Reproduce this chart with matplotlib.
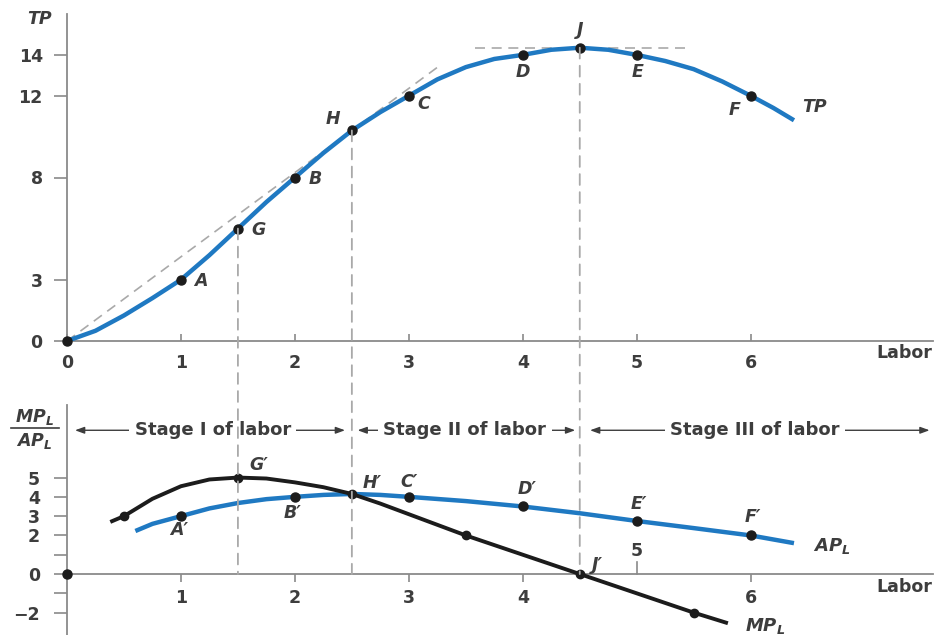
import matplotlib
matplotlib.use("Agg")
import matplotlib.pyplot as plt
from matplotlib.patches import ConnectionPatch

plt.rcParams["font.family"] = ["DejaVu Sans"]
plt.rcParams["mathtext.fontset"] = "custom"
plt.rcParams["mathtext.it"] = "DejaVu Sans:italic:bold"
plt.rcParams["mathtext.rm"] = "DejaVu Sans:bold"
plt.rcParams["mathtext.bf"] = "DejaVu Sans:bold"

# ---- total product curve ----
tp_x = [0, 0.25, 0.5, 0.75, 1, 1.25, 1.5, 1.75, 2, 2.25, 2.5, 2.75, 3, 3.25,
        3.5, 3.75, 4, 4.25, 4.5, 4.75, 5, 5.25, 5.5, 5.75, 6, 6.2, 6.38]
tp_y = [0, 0.5, 1.25, 2.1, 3, 4.2, 5.5, 6.8, 8, 9.2, 10.3, 11.2, 12, 12.8,
        13.4, 13.8, 14, 14.25, 14.35, 14.25, 14, 13.7, 13.3, 12.7, 12, 11.4, 10.8]

# labelled points on TP
tp_pts_names = ["A", "G", "B", "H", "C", "D", "J", "E", "F"]
tp_pts_x = [1, 1.5, 2, 2.5, 3, 4, 4.5, 5, 6]
tp_pts_y = [3, 5.5, 8, 10.3, 12, 14, 14.35, 14, 12]

# ---- average and marginal product curves ----
ap_x = [0.6, 0.75, 1, 1.25, 1.5, 1.75, 2, 2.25, 2.5, 2.75, 3, 3.5, 4, 4.5,
        5, 5.5, 6, 6.38]
ap_y = [2.23, 2.6, 3.0, 3.4, 3.68, 3.88, 4.0, 4.1, 4.15, 4.1, 4.0, 3.78, 3.5,
        3.15, 2.75, 2.38, 2.0, 1.6]

mp_x = [0.38, 0.5, 0.75, 1.0, 1.25, 1.5, 1.75, 2.0, 2.25, 2.5, 2.75, 3.0,
        3.25, 3.5, 4.0, 4.5, 5.0, 5.5, 5.8]
mp_y = [2.7, 3.0, 3.9, 4.55, 4.9, 5.0, 4.95, 4.75, 4.5, 4.15, 3.65, 3.1,
        2.55, 2.0, 1.0, 0.0, -1.0, -2.0, -2.55]

ap_pts_names = ["A′", "B′", "C′", "D′", "E′", "F′"]
ap_pts_x = [1, 2, 3, 4, 5, 6]
ap_pts_y = [3, 4, 4, 3.5, 2.75, 2]

mp_pts_names = ["", "G′", "H′", "", "J′", ""]
mp_pts_x = [0.5, 1.5, 2.5, 3.5, 4.5, 5.5]
mp_pts_y = [3, 5, 4.15, 2, 0, -2]

# axis ticks
top_yticks = [0, 3, 8, 12, 14]
top_xticks = [0, 1, 2, 3, 4, 5, 6]
bot_yticks = [-2, -1, 0, 1, 2, 3, 4, 5]
bot_ylabels = ["−2", "", "0", "", "2", "3", "4", "5"]
bot_xticks = [1, 2, 3, 4, 6]

stage_names = ["Stage I of labor", "Stage II of labor", "Stage III of labor"]
stage_bounds = [(0.07, 2.44), (2.55, 4.46), (4.59, 7.57)]
stage_text_x = [1.28, 3.49, 6.04]

BLUE = "#1f79c2"
DARK = "#1c1c1c"
TXT = "#3d3d3d"
AXC = "#8a8a8a"
DASH = "#a9a9a9"

W, H = 939, 635
fig = plt.figure(figsize=(W / 100, H / 100), dpi=100)
ax1 = fig.add_axes([67 / W, (H - 341) / H, 866 / W, 327 / H])
ax2 = fig.add_axes([67 / W, 0, 866 / W, 230 / H])

for ax in (ax1, ax2):
    ax.set_xlim(0, 7.6)
    for s in ("top", "right"):
        ax.spines[s].set_visible(False)
    for s in ("left", "bottom"):
        ax.spines[s].set_color(AXC)
        ax.spines[s].set_linewidth(1.3)
    ax.patch.set_alpha(0)

ax1.set_ylim(0, 16)
ax2.set_ylim(-3.16, 8.76)
ax2.spines["bottom"].set_position(("data", 0))

tick_font = dict(fontsize=12.5, fontweight="bold", color=TXT)

# top axis ticks
ax1.set_yticks(top_yticks)
ax1.set_yticklabels([str(v) for v in top_yticks], **tick_font)
ax1.tick_params(axis="y", direction="out", length=9.5, width=1.2, color=AXC, pad=8)
ax1.set_xticks(top_xticks)
ax1.set_xticklabels([str(v) for v in top_xticks], **tick_font)
ax1.tick_params(axis="x", direction="in", length=5, width=1.2, color=AXC, pad=9)

# bottom axis ticks
ax2.set_yticks(bot_yticks)
ax2.set_yticklabels(bot_ylabels, **tick_font)
ax2.tick_params(axis="y", direction="out", length=9.5, width=1.2, color=AXC, pad=10)
ax2.set_xticks(bot_xticks)
ax2.set_xticklabels([str(v) for v in bot_xticks], **tick_font)
ax2.tick_params(axis="x", direction="out", length=6, width=1.2, color=AXC, pad=5)
# tick at 5 drawn upward with its label above the axis
ax2.plot([5, 5], [0, 0.6], color=AXC, lw=1.2, clip_on=False)
ax2.text(5, 1.2, "5", ha="center", va="center", **tick_font)

# ---- top panel ----
ax1.plot(tp_x, tp_y, color=BLUE, lw=3.2, solid_capstyle="butt", zorder=3)
ax1.plot(tp_pts_x, tp_pts_y, "o", color=DARK, ms=6.5, zorder=4)
ax1.plot([0], [0], "o", color=DARK, ms=6.5, zorder=5, clip_on=False)

# ray from origin tangent at H, and horizontal tangent at J
h_slope = tp_pts_y[3] / tp_pts_x[3]
ax1.plot([0, 3.25], [0, 3.25 * h_slope], color=DASH, lw=1.2, dashes=(6, 4), zorder=2)
ax1.plot([3.58, 5.42], [tp_pts_y[6], tp_pts_y[6]], color=DASH, lw=1.2,
         dashes=(6, 4), zorder=2)

lab_font = dict(fontsize=12.5, fontweight="bold", fontstyle="italic", color=TXT,
                ha="center", va="center")
tp_offsets = [(20, -1), (21, -1), (20, -2), (-19, 11), (15, -8), (0, -17),
              (0, 18), (1, -17), (-16, -14)]
for name, x, y, off in zip(tp_pts_names, tp_pts_x, tp_pts_y, tp_offsets):
    ax1.annotate(name, (x, y), xytext=off, textcoords="offset pixels", **lab_font)
ax1.annotate("TP", (tp_x[-1], tp_y[-1]), xytext=(21, 13),
             textcoords="offset pixels", **lab_font)

ax1.text(-0.24, 15.75, "TP", **lab_font, clip_on=False)
ax1.text(7.35, -0.6, "Labor", fontsize=12.5, fontweight="bold", color=TXT,
         ha="center", va="center", clip_on=False)

# ---- bottom panel ----
ax2.plot(ap_x, ap_y, color=BLUE, lw=3.2, solid_capstyle="butt", zorder=3)
ax2.plot(mp_x, mp_y, color=DARK, lw=2.8, solid_capstyle="butt", zorder=3)
ax2.plot(ap_pts_x, ap_pts_y, "o", color=DARK, ms=6.5, zorder=4)
ax2.plot(mp_pts_x, mp_pts_y, "o", color=DARK, ms=6, zorder=4)
ax2.plot([0], [0], "o", color=DARK, ms=6.5, zorder=5, clip_on=False)

ap_offsets = [(-2, -14), (-2, -16), (0, 15), (4, 17), (2, 17), (2, 18)]
for name, x, y, off in zip(ap_pts_names, ap_pts_x, ap_pts_y, ap_offsets):
    ax2.annotate(name, (x, y), xytext=off, textcoords="offset pixels", **lab_font)
mp_offsets = [(0, 0), (21, 13), (20, 11), (0, 0), (18, 9), (0, 0)]
for name, x, y, off in zip(mp_pts_names, mp_pts_x, mp_pts_y, mp_offsets):
    if name:
        ax2.annotate(name, (x, y), xytext=off, textcoords="offset pixels", **lab_font)

ax2.annotate(r"$AP_L$", (ap_x[-1], ap_y[-1]), xytext=(38, -3),
             textcoords="offset pixels", fontsize=13, color=TXT,
             ha="center", va="center")
ax2.annotate(r"$MP_L$", (mp_x[-1], mp_y[-1]), xytext=(37, -3),
             textcoords="offset pixels", fontsize=13, color=TXT,
             ha="center", va="center", annotation_clip=False)

# stacked axis title MP_L / AP_L
ax2.text(-0.285, 8.15, r"$MP_L$", fontsize=12.5, color=TXT, ha="center",
         va="center", clip_on=False)
ax2.plot([-0.49, -0.07], [7.56, 7.56], color=TXT, lw=1.2, clip_on=False)
ax2.text(-0.285, 6.92, r"$AP_L$", fontsize=12.5, color=TXT, ha="center",
         va="center", clip_on=False)
ax2.text(7.35, -0.68, "Labor", fontsize=12.5, fontweight="bold", color=TXT,
         ha="center", va="center", clip_on=False)

# stage arrows
for name, (x0, x1), xc in zip(stage_names, stage_bounds, stage_text_x):
    ax2.annotate("", xy=(x0, 7.45), xytext=(x1, 7.45),
                 arrowprops=dict(arrowstyle="<|-|>,head_length=0.55,head_width=0.2",
                                 color=TXT, lw=1.0, shrinkA=0, shrinkB=0),
                 annotation_clip=False)
    ax2.text(xc, 7.45, name, fontsize=13, fontweight="bold", color=TXT,
             ha="center", va="center",
             bbox=dict(boxstyle="square,pad=0.3", fc="white", ec="none"), zorder=5)

# vertical dashed guides running from TP down to the lower panel
guides = [(tp_pts_x[1], tp_pts_y[1], 0), (tp_pts_x[3], tp_pts_y[3], 0),
          (tp_pts_x[6], tp_pts_y[6], 0)]
for x, ytop, ybot in guides:
    con = ConnectionPatch(xyA=(x, ytop), coordsA=ax1.transData,
                          xyB=(x, ybot), coordsB=ax2.transData,
                          color=DASH, lw=1.3, linestyle=(0, (6, 4)), zorder=1)
    fig.add_artist(con)

fig.savefig("out.png", dpi=100, facecolor="white")
